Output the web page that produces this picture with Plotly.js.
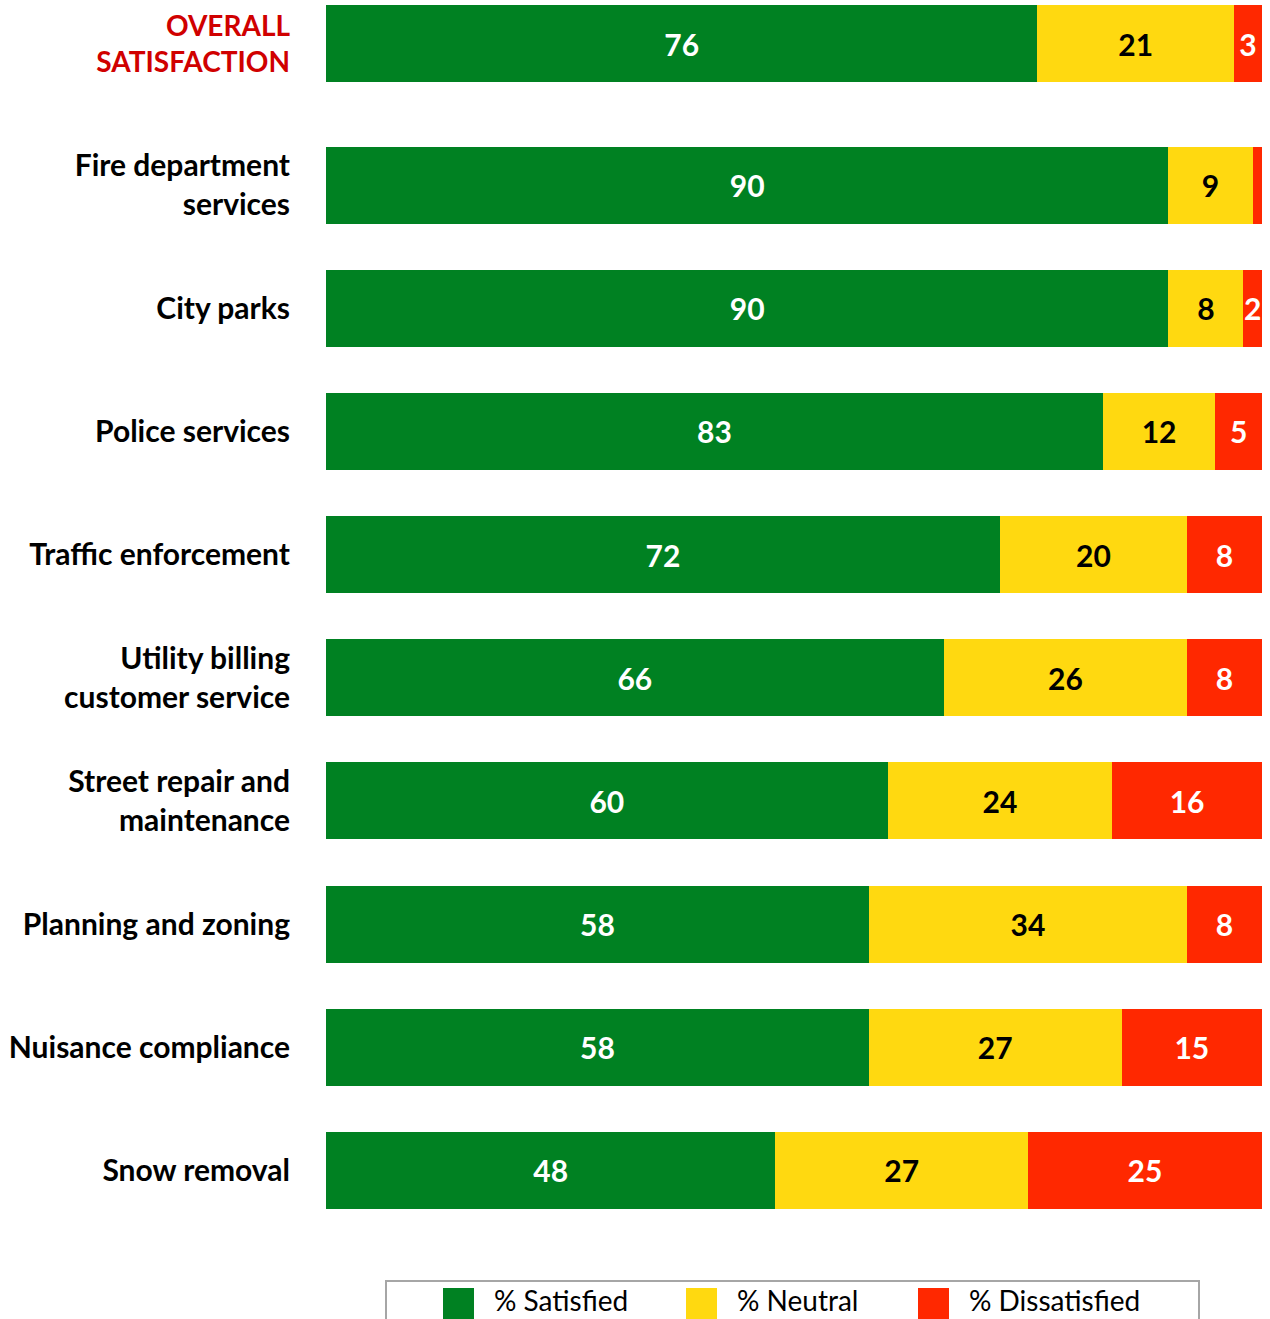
<!DOCTYPE html>
<html>
<head>
<meta charset="utf-8">
<script src="https://cdn.plot.ly/plotly-3.0.1.min.js"></script>
<style>html,body{margin:0;padding:0;background:#fff;}#chart{width:1270px;height:1319px;}</style>
</head>
<body>
<div id="chart"></div>
<script>
// ---- data ----
const overallLabel = ["OVERALL<br>SATISFACTION"];
const overallSatisfied = [76];
const overallNeutral = [21];
const overallDissatisfied = [3];

const services = [
  "Fire department<br>services",
  "City parks",
  "Police services",
  "Traffic enforcement",
  "Utility billing<br>customer service",
  "Street repair and<br>maintenance",
  "Planning and zoning",
  "Nuisance compliance",
  "Snow removal"
];
const satisfied    = [90, 90, 83, 72, 66, 60, 58, 58, 48];
const neutral      = [9, 8, 12, 20, 26, 24, 34, 27, 27];
const dissatisfied = [1, 2, 5, 8, 8, 16, 8, 15, 25];

const seriesNames = ["% Satisfied", "% Neutral", "% Dissatisfied"];
const seriesColors = ["#008122", "#FFD910", "#FF2800"];
const labelColors = ["#ffffff", "#000000", "#ffffff"];

// ---- chart ----
const FONT = "Lato, 'Open Sans', sans-serif";
function lbl(arr){ return arr.map(v => v >= 2 ? String(v) : ""); }

function barTrace(x, y, i, yaxis){
  return {
    type: "bar", orientation: "h",
    x: x, y: y, yaxis: yaxis, xaxis: "x",
    name: seriesNames[i],
    marker: {color: seriesColors[i], line: {width: 0}},
    text: lbl(x),
    textposition: "inside",
    insidetextanchor: "middle",
    constraintext: "none",
    cliponaxis: true,
    insidetextfont: {family: FONT, size: 30, color: labelColors[i], weight: 700},
    hoverinfo: "name+x",
    showlegend: false
  };
}

const seriesMain = [satisfied, neutral, dissatisfied];
const seriesOverall = [overallSatisfied, overallNeutral, overallDissatisfied];
const data = [];
for (let i = 0; i < 3; i++) {
  data.push(barTrace(seriesOverall[i], overallLabel, i, "y2"));
  data.push(barTrace(seriesMain[i], services, i, "y"));
}

// legend (drawn as shapes/annotations in paper coordinates)
const W = 1270, H = 1319, L = 326, R = 8;
const pw = W - L - R;
const px = v => (v - L) / pw;
const py = v => (H - v) / H;

const shapes = [{
  type: "rect", xref: "paper", yref: "paper",
  x0: px(386), x1: px(1199), y0: py(1330), y1: py(1281),
  line: {color: "#A6A6A6", width: 2}, fillcolor: "rgba(0,0,0,0)"
}];
const annotations = [];
const swatchX = [443, 686, 918];
const textX = [492, 735, 967];
for (let i = 0; i < 3; i++) {
  shapes.push({
    type: "rect", xref: "paper", yref: "paper",
    x0: px(swatchX[i]), x1: px(swatchX[i] + 31), y0: py(1319), y1: py(1288),
    line: {width: 0}, fillcolor: seriesColors[i]
  });
  annotations.push({
    xref: "paper", yref: "paper", x: px(textX[i]), y: py(1300),
    xanchor: "left", yanchor: "middle", showarrow: false,
    text: seriesNames[i],
    font: {family: FONT, size: 28, color: "#000000"}
  });
}

const layout = {
  width: W, height: H,
  margin: {l: L, r: R, t: 0, b: 0, pad: 0},
  paper_bgcolor: "#ffffff", plot_bgcolor: "#ffffff",
  barmode: "stack",
  bargap: 0.375,
  showlegend: false,
  xaxis: {range: [0, 100], visible: false, fixedrange: true, anchor: "y"},
  yaxis: {
    type: "category", domain: [0.0659, 0.9064], range: [8.5, -0.5],
    showgrid: false, zeroline: false, showline: false, ticks: "",
    ticklabelstandoff: 35,
    tickfont: {family: FONT, size: 30, color: "#000000", weight: 700},
    automargin: false, anchor: "x"
  },
  yaxis2: {
    type: "category", domain: [0.9333, 1.0], range: [0.357, -0.357],
    showgrid: false, zeroline: false, showline: false, ticks: "",
    ticklabelstandoff: 35,
    tickfont: {family: FONT, size: 28, color: "#D00000", weight: 700},
    automargin: false, anchor: "x"
  },
  shapes: shapes,
  annotations: annotations
};

Plotly.newPlot("chart", data, layout, {displayModeBar: false, staticPlot: true});
</script>
</body>
</html>
